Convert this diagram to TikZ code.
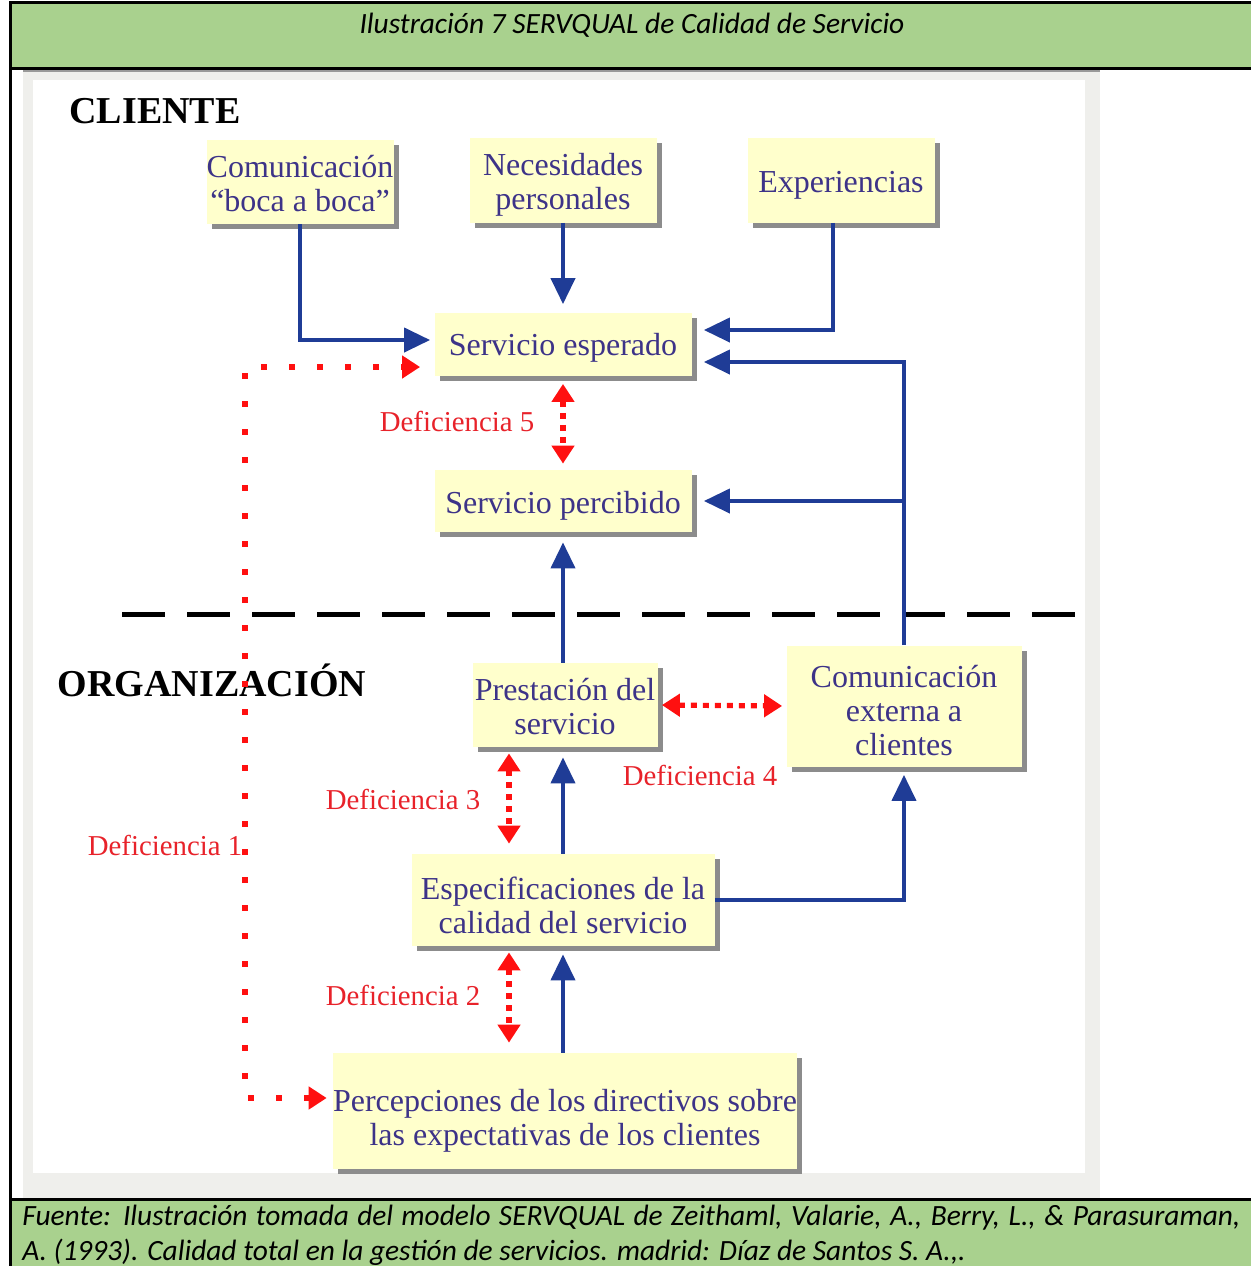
\documentclass[tikz,border=0pt]{standalone}
\usepackage{fontspec}
\setmainfont{Liberation Serif}
\newfontfamily\capfont{Carlito}
\usetikzlibrary{arrows.meta,shadows,calc}

\definecolor{bandgreen}{HTML}{A9D18E}
\definecolor{boxfill}{HTML}{FFFFCC}
\definecolor{boxtext}{HTML}{3D3388}
\definecolor{flowblue}{HTML}{1F3C96}
\definecolor{gapred}{HTML}{FF1010}
\definecolor{labelred}{HTML}{E8222A}
\definecolor{panelgray}{HTML}{EFEFEC}

% invisible strut that lowers the text block inside a box
\newcommand\firstline[1]{\rule{0pt}{#1}}

\begin{document}
\begin{tikzpicture}[x=0.5pt,y=-0.5pt,
  box/.style={fill=boxfill, draw=none, text=boxtext, align=center, inner sep=0pt,
    font=\fontsize{16}{17}\selectfont,
    drop shadow={shadow xshift=2.5pt, shadow yshift=-2.5pt, fill=black!45, opacity=1}},
  zone/.style={font=\fontsize{19}{22}\selectfont\bfseries, text=black},
  gaplabel/.style={font=\fontsize{14.4}{16}\selectfont, text=labelred, inner sep=0pt},
  caption/.style={font=\capfont\itshape\fontsize{14.7}{17}\selectfont, inner sep=0pt},
  flow/.style={draw=flowblue, line width=2pt, -{Triangle[length=13pt,width=12pt]}},
  gap/.style={draw=gapred, line width=2.6pt, dash pattern=on 3pt off 3pt,
    {Triangle[length=9pt,width=11pt]}-{Triangle[length=9pt,width=11pt]}},
  gapone/.style={draw=gapred, line width=2.6pt, dash pattern=on 3pt off 11pt,
    {Triangle[length=9pt,width=11pt]}-{Triangle[length=9pt,width=11pt]}},
  divider/.style={draw=black, line width=2.5pt, dash pattern=on 21.5pt off 11pt}
]
\useasboundingbox (0,0) rectangle (1251,1266);

% frame: header band, body, source band
\fill[white] (0,0) rectangle (1251,1266);
\fill[bandgreen] (10,2) rectangle (1251,68);
\fill[bandgreen] (10,1199) rectangle (1251,1266);
\draw[line width=1.5pt] (1251,2) -- (10,2) -- (10,1266);
\draw[line width=1.5pt] (10,68) -- (1251,68);
\draw[line width=1.5pt] (10,1199) -- (1251,1199);

% diagram panel
\fill[panelgray] (23,70) rectangle (1100,1198);
\fill[white] (33,80) rectangle (1085,1173);
\draw[black!40, line width=1pt] (23,70.5) -- (1100,70.5);

\node[caption] (title) at (632,25)
  {Ilustración 7 SERVQUAL de Calidad de Servicio};
\node[caption, anchor=west] (src1) at (22,1218)
  {\makebox[609pt][s]{Fuente: Ilustración tomada del modelo SERVQUAL de Zeithaml, Valarie, A., Berry, L., \& Parasuraman,}};
\node[caption, anchor=west] (src2) at (22,1252)
  {A. (1993). Calidad total en la gestión de servicios. madrid: Díaz de Santos S. A.,.};

% zone headings
\node[zone] (cliente) at (155,111) {CLIENTE};
\node[zone] (org) at (212,680) {ORGANIZACIÓN};

% divider between customer and organisation
\draw[divider] (122,614) -- (1083,614);

% boxes
\node[box, minimum width=93.5pt, minimum height=42pt] (boca) at (300,182)
  {\firstline{13pt}Comunicación\\“boca a boca”};
\node[box, minimum width=93.5pt, minimum height=42.5pt] (nec) at (563,180)
  {\firstline{16pt}Necesidades\\personales};
\node[box, minimum width=93.5pt, minimum height=42.5pt] (exp) at (841,180)
  {\firstline{16pt}Experiencias};
\node[box, minimum width=128.5pt, minimum height=31.5pt] (esperado) at (563,344)
  {\firstline{15pt}Servicio esperado};
\node[box, minimum width=128.5pt, minimum height=31pt] (percibido) at (563,501)
  {\firstline{16pt}Servicio percibido};
\node[box, minimum width=92.5pt, minimum height=42pt] (prest) at (565,705)
  {\firstline{13pt}Prestación del\\servicio};
\node[box, minimum width=117.5pt, minimum height=60.5pt] (comext) at (904,706)
  {\firstline{16pt}Comunicación\\externa a\\clientes};
\node[box, minimum width=151.5pt, minimum height=46pt] (espec) at (563,900)
  {\firstline{17pt}Especificaciones de la\\calidad del servicio};
\node[box, minimum width=230pt, minimum height=58pt] (percep) at (565,1111)
  {\firstline{21pt}Percepciones de los directivos sobre\\las expectativas de los clientes};

% flows between boxes
\draw[flow, shorten >=2pt] (boca.south) |- ($(esperado.west)+(0,-4)$);
\draw[flow, shorten >=4pt] (nec.south) -- (esperado.north);
\draw[flow, shorten >=6pt] ($(exp.south)+(-8,0)$) |- ($(esperado.east)+(0,-14)$);
\draw[flow, shorten >=6pt] (comext.north) |- ($(esperado.east)+(0,18)$);
\draw[flow, shorten >=6pt] (comext.north |- percibido.east) -- (percibido.east);
\draw[flow, shorten >=5pt] (prest.north -| percibido.south) -- (percibido.south);
\draw[flow, shorten >=5pt] (espec.north) -- (espec.north |- prest.south);
\draw[flow, shorten >=4pt] (espec.east) -| (comext.south);
\draw[flow, shorten >=4pt] (percep.north -| espec.south) -- (espec.south);

% gaps
\coordinate (gx) at (509,0);
\coordinate (d1low) at (245,1098);
\coordinate (d1high) at (245,367);
\draw[gap, shorten <=4pt, shorten >=3pt] (esperado.south) -- (percibido.north);
\draw[gap, shorten <=2pt, shorten >=2pt] (prest.east) -- (comext.west);
\draw[gap, shorten <=3pt, shorten >=5pt] (prest.south -| gx) -- (espec.north -| gx);
\draw[gap, shorten <=3pt, shorten >=5pt] (espec.south -| gx) -- (percep.north -| gx);
\draw[gapone, shorten <=3pt, shorten >=7pt] (percep.west |- d1low) -- (d1low) -- (d1high) -- (esperado.west |- d1high);

\node[gaplabel] (g5) at (457,421) {Deficiencia 5};
\node[gaplabel] (g4) at (700,775) {Deficiencia 4};
\node[gaplabel] (g3) at (403,799) {Deficiencia 3};
\node[gaplabel] (g2) at (403,995) {Deficiencia 2};
\node[gaplabel] (g1) at (165,845) {Deficiencia 1};
\end{tikzpicture}
\end{document}
